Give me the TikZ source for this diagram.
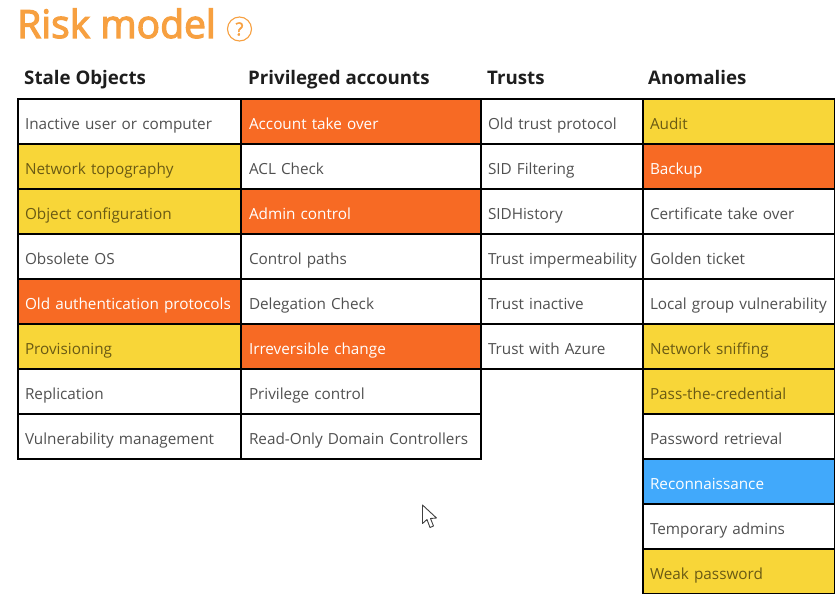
\documentclass[tikz,border=0pt]{standalone}
\usepackage{fontspec}
\setmainfont{Open Sans}
\newfontfamily\titlefont[FakeBold=3]{Open Sans}
\newfontfamily\helpfont[FakeBold=2]{Open Sans}
\definecolor{orangecell}{HTML}{F76A24}
\definecolor{yellowcell}{HTML}{F8D638}
\definecolor{bluecell}{HTML}{41A9FB}
\definecolor{titlecol}{HTML}{F7A040}
\definecolor{greytext}{HTML}{505050}
\definecolor{yellowtext}{HTML}{6A5A14}
\definecolor{headtext}{HTML}{1E1E1E}
\tikzset{
  cell/.style={draw=black,line width=2.6pt,outer sep=0pt,anchor=north west,minimum height=45pt,inner xsep=7pt,inner ysep=0pt,
     align=left,font=\fontsize{15.3}{18}\selectfont,text height=19pt,text depth=3pt},
  colA/.style={cell,minimum width=223pt,text width=209pt},
  colB/.style={cell,minimum width=240pt,inner xsep=8pt,text width=224pt},
  colC/.style={cell,minimum width=162pt,text width=148pt},
  colD/.style={cell,minimum width=192pt,text width=178pt},
  plain/.style={fill=white,text=greytext},
  yel/.style={fill=yellowcell,text=yellowtext},
  org/.style={fill=orangecell,text=white},
  blu/.style={fill=bluecell,text=white},
  head/.style={anchor=base west,inner sep=0pt,font=\fontsize{18.7}{20}\selectfont\bfseries,text=headtext},
}
\begin{document}
\begin{tikzpicture}[x=1pt,y=-1pt]
\useasboundingbox[fill=white] (0,0) rectangle (835,594);
\node[anchor=base west,inner sep=0pt,text=titlecol,font=\fontsize{39}{40}\selectfont\titlefont] (title) at (17,38) {Risk model};
\node[circle,draw=titlecol,line width=1.1pt,minimum size=24pt,inner sep=0pt,text=titlecol,font=\fontsize{18}{18}\selectfont\helpfont] (help) at (239.5,29) {?};
\node[head] (h1) at (24,84.7) {Stale Objects};
\node[head] (h2) at (248,84.7) {Privileged accounts};
\node[head] (h3) at (487,84.7) {Trusts};
\node[head] (h4) at (648,84.7) {Anomalies};
% Stale Objects
\node[colA,plain] (a1) at (18,99) {Inactive user or computer};
\node[colA,yel] (a2) at (18,144) {Network topography};
\node[colA,yel] (a3) at (18,189) {Object configuration};
\node[colA,plain] (a4) at (18,234) {Obsolete OS};
\node[colA,org] (a5) at (18,279) {Old authentication protocols};
\node[colA,yel] (a6) at (18,324) {Provisioning};
\node[colA,plain] (a7) at (18,369) {Replication};
\node[colA,plain] (a8) at (18,414) {Vulnerability management};
% Privileged accounts
\node[colB,org] (b1) at (241,99) {Account take over};
\node[colB,plain] (b2) at (241,144) {ACL Check};
\node[colB,org] (b3) at (241,189) {Admin control};
\node[colB,plain] (b4) at (241,234) {Control paths};
\node[colB,plain] (b5) at (241,279) {Delegation Check};
\node[colB,org] (b6) at (241,324) {Irreversible change};
\node[colB,plain] (b7) at (241,369) {Privilege control};
\node[colB,plain] (b8) at (241,414) {Read-Only Domain Controllers};
% Trusts
\node[colC,plain] (c1) at (481,99) {Old trust protocol};
\node[colC,plain] (c2) at (481,144) {SID Filtering};
\node[colC,plain] (c3) at (481,189) {SIDHistory};
\node[colC,plain] (c4) at (481,234) {\mbox{Trust impermeability}};
\node[colC,plain] (c5) at (481,279) {Trust inactive};
\node[colC,plain] (c6) at (481,324) {Trust with Azure};
% Anomalies
\node[colD,yel] (d1) at (643,99) {Audit};
\node[colD,org] (d2) at (643,144) {Backup};
\node[colD,plain] (d3) at (643,189) {Certificate take over};
\node[colD,plain] (d4) at (643,234) {Golden ticket};
\node[colD,plain] (d5) at (643,279) {Local group vulnerability};
\node[colD,yel] (d6) at (643,324) {Network sniffing};
\node[colD,yel] (d7) at (643,369) {Pass-the-credential};
\node[colD,plain] (d8) at (643,414) {Password retrieval};
\node[colD,blu] (d9) at (643,459) {Reconnaissance};
\node[colD,plain] (d10) at (643,504) {Temporary admins};
\node[colD,yel] (d11) at (643,549) {Weak password};
% mouse pointer
\draw[draw=black!75,fill=white,line width=0.9pt,line join=round]
  (422.5,505) -- (422.5,523.5) -- (427,519.5) -- (430,527.5) -- (433.5,526) -- (430.5,518.5) -- (436.5,518) -- cycle;
\end{tikzpicture}
\end{document}
